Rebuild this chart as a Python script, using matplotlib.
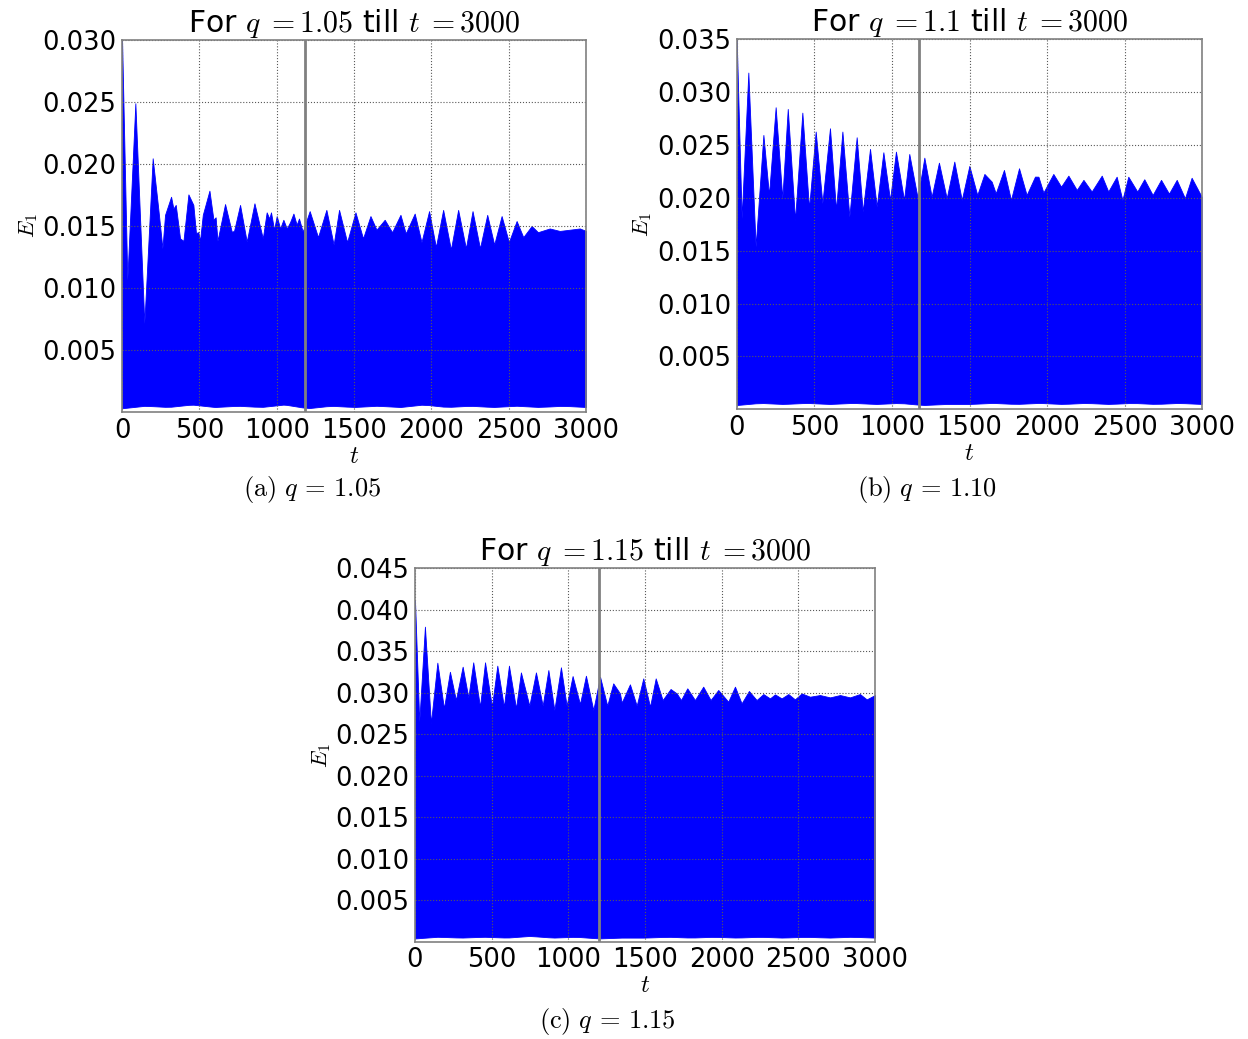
import numpy as np
import matplotlib
matplotlib.use("Agg")
import matplotlib.pyplot as plt

plt.rcParams['mathtext.fontset'] = 'cm'
plt.rcParams['font.family'] = ['DejaVu Sans']

# ---------------- data (upper envelope of E_1) ----------------
t_a = [0, 34, 86, 144, 198, 235, 261, 278, 317, 332, 347, 375, 397, 429, 461, 478, 493, 504, 522,
       565, 591, 605, 617, 666, 709, 724, 763, 806, 856, 910, 935, 952, 963, 983, 1000, 1022, 1043,
       1065, 1086, 1108, 1129, 1144, 1168, 1213, 1267, 1321, 1368, 1403, 1455, 1509, 1558, 1606,
       1645, 1698, 1746, 1800, 1834, 1892, 1936, 1985, 2029, 2076, 2126, 2173, 2223, 2266, 2314,
       2361, 2406, 2454, 2501, 2551, 2594, 2648, 2689, 2765, 2830, 2895, 2960, 3000]
e_a = [0.0300, 0.01065, 0.0249, 0.00715, 0.02046, 0.0163, 0.0132, 0.0159, 0.01736, 0.0164, 0.0167,
       0.0140, 0.0138, 0.01755, 0.0167, 0.01443, 0.0145, 0.0138, 0.0159, 0.01785, 0.0155, 0.0157,
       0.0138, 0.01677, 0.01454, 0.0146, 0.0167, 0.01374, 0.01683, 0.0140, 0.0161, 0.0156, 0.0161,
       0.0147, 0.0158, 0.0148, 0.0155, 0.0148, 0.0153, 0.0160, 0.0151, 0.0156, 0.01454, 0.0162,
       0.0141, 0.0163, 0.0135, 0.0163, 0.0137, 0.0161, 0.0140, 0.0158, 0.0147, 0.0155, 0.0145,
       0.0159, 0.0144, 0.0160, 0.0137, 0.0162, 0.0133, 0.0163, 0.0131, 0.0163, 0.0132, 0.0162,
       0.0132, 0.0159, 0.0135, 0.0158, 0.0137, 0.0154, 0.0141, 0.0150, 0.0145, 0.0148, 0.0146,
       0.0147, 0.0148, 0.0146]

t_b = [0, 32, 75, 122, 172, 208, 251, 294, 329, 376, 423, 466, 509, 552, 601, 640, 681, 726, 773,
       812, 859, 902, 945, 988, 1026, 1078, 1112, 1166, 1209, 1256, 1303, 1353, 1402, 1450, 1499,
       1550, 1596, 1643, 1669, 1722, 1767, 1819, 1868, 1922, 1944, 1976, 2040, 2090, 2137, 2191,
       2234, 2287, 2352, 2394, 2448, 2485, 2523, 2581, 2626, 2680, 2734, 2785, 2835, 2888, 2931, 2996]
e_b = [0.0350, 0.01807, 0.03185, 0.0154, 0.02595, 0.02027, 0.02857, 0.01996, 0.02841, 0.0179,
       0.02806, 0.0190, 0.02627, 0.01949, 0.02658, 0.01886, 0.02627, 0.01822, 0.02573, 0.0187,
       0.02463, 0.01917, 0.02431, 0.0198, 0.02437, 0.0198, 0.02415, 0.01996, 0.0238, 0.0201,
       0.02333, 0.01996, 0.02343, 0.0198, 0.02302, 0.02027, 0.02226, 0.02153, 0.02043, 0.02264,
       0.0198, 0.0228, 0.02027, 0.02201, 0.0220, 0.0205, 0.02226, 0.02106, 0.0221, 0.02075, 0.0217,
       0.0206, 0.0221, 0.0206, 0.0220, 0.0198, 0.0220, 0.0206, 0.02176, 0.02027, 0.0217, 0.0204,
       0.0217, 0.01996, 0.0219, 0.0201]

t_c = [0, 28, 65, 104, 146, 189, 228, 267, 311, 348, 380, 424, 457, 502, 537, 580, 613, 659, 691,
       746, 789, 833, 870, 909, 952, 989, 1028, 1076, 1115, 1163, 1207, 1254, 1293, 1337, 1348, 1402,
       1446, 1489, 1533, 1570, 1615, 1667, 1707, 1735, 1776, 1826, 1880, 1928, 1978, 2043, 2087,
       2130, 2178, 2228, 2272, 2315, 2348, 2391, 2435, 2478, 2522, 2576, 2641, 2707, 2772, 2837,
       2902, 2946, 3000]
e_c = [0.0412, 0.02652, 0.03797, 0.02632, 0.03363, 0.02813, 0.03254, 0.02913, 0.03315, 0.02945,
       0.03367, 0.02833, 0.03367, 0.02833, 0.03327, 0.02833, 0.03327, 0.02813, 0.03246, 0.02845,
       0.03246, 0.02845, 0.03274, 0.02793, 0.03307, 0.02845, 0.03202, 0.02865, 0.03206, 0.02793,
       0.03194, 0.02845, 0.03114, 0.02993, 0.02881, 0.03102, 0.02845, 0.03174, 0.02833, 0.03174,
       0.02913, 0.03046, 0.02993, 0.02913, 0.03054, 0.02913, 0.03074, 0.02913, 0.03034, 0.02893,
       0.03074, 0.02873, 0.03022, 0.02913, 0.02985, 0.02933, 0.02981, 0.02933, 0.02985, 0.02921,
       0.02993, 0.02953, 0.02973, 0.02945, 0.02973, 0.02945, 0.02985, 0.02921, 0.02973]

# lower envelope (minima of the fast oscillation), rough readings
t_low = [0, 150, 300, 450, 600, 750, 900, 1050, 1200, 1350, 1500, 1650, 1800, 1950, 2100,
         2250, 2400, 2550, 2700, 2850, 3000]
low_a = [0.0003, 0.0005, 0.0004, 0.0006, 0.0004, 0.0005, 0.0004, 0.0006, 0.0003, 0.0005, 0.0004,
         0.0005, 0.0004, 0.0006, 0.0004, 0.0005, 0.0004, 0.0005, 0.0004, 0.0005, 0.0004]
low_b = [0.0004, 0.0006, 0.0005, 0.0006, 0.0005, 0.0006, 0.0005, 0.0006, 0.0004, 0.0005, 0.0005,
         0.0006, 0.0005, 0.0006, 0.0005, 0.0006, 0.0005, 0.0006, 0.0005, 0.0006, 0.0005]
low_c = [0.0004, 0.0006, 0.0005, 0.0006, 0.0005, 0.0007, 0.0005, 0.0006, 0.0004, 0.0005, 0.0005,
         0.0006, 0.0005, 0.0006, 0.0005, 0.0006, 0.0005, 0.0006, 0.0005, 0.0006, 0.0005]

q_values = ["1.05", "1.1", "1.15"]
captions = [r"$\mathrm{(a)}\ q\,=\,1.05$", r"$\mathrm{(b)}\ q\,=\,1.10$", r"$\mathrm{(c)}\ q\,=\,1.15$"]
t_end = 3000
vline_t = [1180, 1176, 1200]
ymax = [0.030, 0.035, 0.045]
xticks = [0, 500, 1000, 1500, 2000, 2500, 3000]

panels = [(t_a, e_a, low_a), (t_b, e_b, low_b), (t_c, e_c, low_c)]

# ---------------- layout ----------------
fig = plt.figure(figsize=(12.48, 10.39), dpi=100)
rects = [[0.0978, 0.6035, 0.3718, 0.3580],
         [0.5903, 0.6061, 0.3731, 0.3561],
         [0.3325, 0.0936, 0.3686, 0.3594]]
cap_pos = [(0.250, 0.529), (0.743, 0.529), (0.4865, 0.017)]

for i, (t, e, low) in enumerate(panels):
    ax = fig.add_axes(rects[i])
    tt = np.array(t, dtype=float)
    lo = np.interp(tt, t_low, low)
    ax.fill_between(tt, lo, e, color='#0000ff', linewidth=0.6, edgecolor='#0000ff')
    ax.axvline(vline_t[i], color='0.5', linewidth=2)
    ax.set_xlim(0, t_end)
    ax.set_ylim(0, ymax[i])
    ax.set_xticks(xticks)
    yt = np.arange(0.005, ymax[i] + 1e-9, 0.005)
    ax.set_yticks(yt)
    ax.set_yticklabels([f"{v:.3f}" for v in yt])
    ax.tick_params(labelsize=18.5, length=0, pad=4)
    ax.grid(True, color='0.35', linestyle=':', linewidth=0.8)
    for s in ax.spines.values():
        s.set_color('0.5')
        s.set_linewidth(1.2)
    ax.set_title(f"For $q\\;{{=}}{q_values[i]}$ till $t\\;{{=}}{t_end}$", fontsize=21.5, pad=4)
    ax.set_xlabel("$t$", fontsize=18, labelpad=0)
    ax.set_ylabel("$E_1$", fontsize=16, labelpad=2)
    fig.text(cap_pos[i][0], cap_pos[i][1], captions[i], ha='center', va='center', fontsize=19)

fig.savefig("out.png", dpi=100)
